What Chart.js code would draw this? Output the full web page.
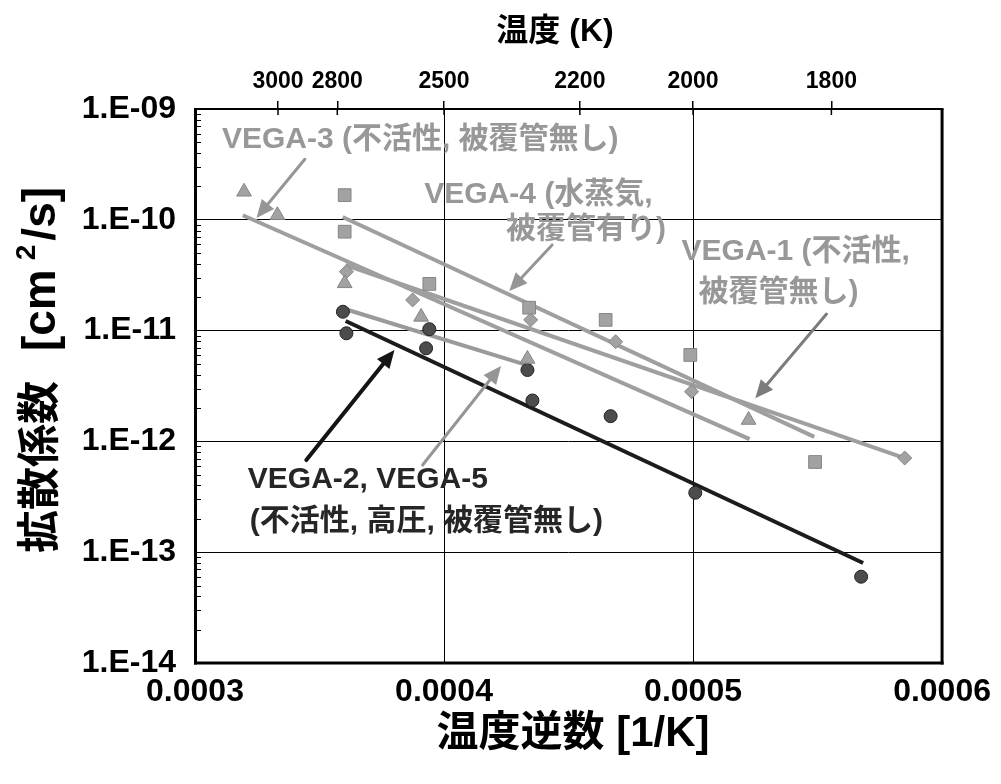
<!DOCTYPE html>
<html>
<head>
<meta charset="utf-8">
<script src="https://cdn.jsdelivr.net/npm/chart.js@4.4.1/dist/chart.umd.min.js"></script>
<style>
  html, body { margin: 0; padding: 0; background: #fff; }
  #wrap { width: 1001px; height: 784px; }
</style>
</head>
<body>
<div id="wrap"><canvas id="c" width="1001" height="784"></canvas></div>
<script>
const FONT = '"Liberation Sans", Arial, "Noto Sans CJK JP", sans-serif';

// Measured points: x = 1/T [1/K], y = diffusion coefficient [cm^2/s]
const triangleX = [0.0003197, 0.0003331, 0.0003601, 0.0003908, 0.0004335, 0.0005223];
const triangleY = [1.79e-10, 1.10e-10, 2.67e-11, 1.33e-11, 5.55e-12, 1.56e-12];

const squareX = [0.0003601, 0.0003601, 0.0003941, 0.0004342, 0.0004649, 0.0004989, 0.0005490];
const squareY = [1.67e-10, 7.81e-11, 2.64e-11, 1.61e-11, 1.25e-11, 6.03e-12, 6.52e-13];

const diamondX = [0.0003608, 0.0003874, 0.0004348, 0.0004689, 0.0004994, 0.0005850];
const diamondY = [3.40e-11, 1.89e-11, 1.25e-11, 7.94e-12, 2.81e-12, 7.08e-13];

const circleX = [0.0003594, 0.0003608, 0.0003941, 0.0003928, 0.0004335, 0.0004355, 0.0004669, 0.0005009, 0.0005675];
const circleY = [1.48e-11, 9.46e-12, 1.03e-11, 6.92e-12, 4.41e-12, 2.34e-12, 1.69e-12, 3.44e-13, 6.01e-14];

// Arrhenius fit lines, end points of each test
const fitVega3X = [0.0003192, 0.0005227];
const fitVega3Y = [1.10e-10, 1.05e-12];
const fitVega4X = [0.0003593, 0.0005487];
const fitVega4Y = [1.06e-10, 1.10e-12];
const fitVega1X = [0.0003605, 0.0005850];
const fitVega1Y = [3.91e-11, 7.08e-13];
const fitVega5X = [0.0003589, 0.0004330];
const fitVega5Y = [1.60e-11, 4.90e-12];
const fitVega2X = [0.0003605, 0.0005683];
const fitVega2Y = [1.22e-11, 8.0e-14];

// Axis ticks
const xTicks = [0.0003, 0.0004, 0.0005, 0.0006];
const xTickLabels = ['0.0003', '0.0004', '0.0005', '0.0006'];
const tempTicks = [3000, 2800, 2500, 2200, 2000, 1800];
const yDecades = [-14, -13, -12, -11, -10, -9];
const yTickLabels = ['1.E-14', '1.E-13', '1.E-12', '1.E-11', '1.E-10', '1.E-09'];

// Callouts (anchored in data units)
const notes = [
  { text: 'VEGA-3 (不活性, 被覆管無し)', x: 0.0003108, y: 5.25e-10, color: '#989898' },
  { text: 'VEGA-4 (水蒸気,', x: 0.0003921, y: 1.68e-10, color: '#989898' },
  { text: '被覆管有り)', x: 0.0004249, y: 8.09e-11, color: '#989898' },
  { text: 'VEGA-1 (不活性,', x: 0.0004954, y: 5.12e-11, color: '#989898' },
  { text: '被覆管無し)', x: 0.0005022, y: 2.18e-11, color: '#989898' },
  { text: 'VEGA-2, VEGA-5', x: 0.0003212, y: 4.49e-13, color: '#262626' },
  { text: '(不活性, 高圧, 被覆管無し)', x: 0.0003220, y: 1.88e-13, color: '#262626' }
];
const arrows = [
  { x1: 0.0003441, y1: 3.52e-10, x2: 0.0003247, y2: 1.04e-10, color: '#959595', w: 3 },
  { x1: 0.0004434, y1: 5.93e-11, x2: 0.0004262, y2: 2.28e-11, color: '#959595', w: 3 },
  { x1: 0.0005536, y1: 1.41e-11, x2: 0.0005250, y2: 2.45e-12, color: '#7c7c7c', w: 3 },
  { x1: 0.0003447, y1: 6.79e-13, x2: 0.0003801, y2: 6.68e-12, color: '#151515', w: 4 },
  { x1: 0.0003914, y1: 6.12e-13, x2: 0.0004229, y2: 4.80e-12, color: '#959595', w: 3 }
];

const pts = (xs, ys) => xs.map((x, i) => ({ x, y: ys[i] }));

const GRAY = '#a2a2a2', GRAY_EDGE = '#858585';

function fitLine(xs, ys, color) {
  return { data: pts(xs, ys), showLine: true, borderColor: color, borderWidth: 4,
           pointRadius: 0, fill: false, order: 2 };
}
function markers(xs, ys, style, r, fillC, edgeC) {
  return { data: pts(xs, ys), showLine: false, pointStyle: style, pointRadius: r,
           backgroundColor: fillC, borderColor: edgeC, borderWidth: 1, order: 1 };
}

function drawArrow(ctx, x1, y1, x2, y2, color, w) {
  const a = Math.atan2(y2 - y1, x2 - x1);
  const L = 18, H = 8;
  const bx = x2 - L * Math.cos(a), by = y2 - L * Math.sin(a);
  ctx.strokeStyle = color; ctx.lineWidth = w; ctx.lineCap = 'round';
  ctx.beginPath(); ctx.moveTo(x1, y1); ctx.lineTo(bx, by); ctx.stroke();
  ctx.fillStyle = color;
  ctx.beginPath();
  ctx.moveTo(x2, y2);
  ctx.lineTo(bx + H * Math.sin(a), by - H * Math.cos(a));
  ctx.lineTo(bx - H * Math.sin(a), by + H * Math.cos(a));
  ctx.closePath(); ctx.fill();
}

const decor = {
  id: 'decor',
  afterDatasetsDraw(chart) {
    const { ctx, scales } = chart;
    const sx = scales.x, sy = scales.y;
    ctx.save();
    arrows.forEach(a => drawArrow(ctx, sx.getPixelForValue(a.x1), sy.getPixelForValue(a.y1),
      sx.getPixelForValue(a.x2), sy.getPixelForValue(a.y2), a.color, a.w));
    ctx.font = `bold 30px ${FONT}`;
    ctx.textBaseline = 'middle';
    ctx.textAlign = 'left';
    notes.forEach(n => {
      ctx.fillStyle = n.color;
      ctx.fillText(n.text, sx.getPixelForValue(n.x), sy.getPixelForValue(n.y));
    });
    ctx.restore();
  },
  afterDraw(chart) {
    const { ctx, chartArea: a, scales } = chart;
    ctx.save();
    ctx.strokeStyle = '#000';
    // minor ticks inside the left edge
    ctx.lineWidth = 1;
    scales.y.ticks.forEach(t => {
      const lg = Math.log10(t.value);
      if (Math.abs(lg - Math.round(lg)) < 1e-6) return;
      const p = Math.round(scales.y.getPixelForValue(t.value)) + 0.5;
      ctx.beginPath(); ctx.moveTo(a.left, p); ctx.lineTo(a.left + 6, p); ctx.stroke();
    });
    // temperature ticks reaching inside the top edge
    ctx.lineWidth = 1.5;
    scales.x2.ticks.forEach(t => {
      const p = scales.x2.getPixelForValue(t.value);
      ctx.beginPath(); ctx.moveTo(p, a.top); ctx.lineTo(p, a.top + 6); ctx.stroke();
    });
    // frame
    ctx.lineWidth = 3;
    ctx.beginPath(); ctx.moveTo(a.left + 0.5, a.top); ctx.lineTo(a.left + 0.5, a.bottom + 1.5); ctx.stroke();
    ctx.beginPath(); ctx.moveTo(a.right, a.top); ctx.lineTo(a.right, a.bottom + 1.5); ctx.stroke();
    ctx.beginPath(); ctx.moveTo(a.left - 1, a.bottom); ctx.lineTo(a.right + 1.5, a.bottom); ctx.stroke();
    ctx.lineWidth = 2;
    ctx.beginPath(); ctx.moveTo(a.left - 1, a.top); ctx.lineTo(a.right + 1.5, a.top); ctx.stroke();

    // titles
    ctx.fillStyle = '#000';
    ctx.textBaseline = 'middle';
    ctx.textAlign = 'center';
    ctx.font = `bold 32px ${FONT}`;
    ctx.fillText('温度 (K)', 555, 32);
    ctx.font = `bold 42px ${FONT}`;
    ctx.fillText('温度逆数 [1/K]', 573, 734);

    // vertical title with superscript
    ctx.save();
    ctx.translate(42, 370);
    ctx.rotate(-Math.PI / 2);
    const cjk = `bold 43px ${FONT}`, unit = `bold 46px ${FONT}`, sup = `bold 28px ${FONT}`;
    const parts = [
      { t: '拡散係数', f: cjk, dy: 0, after: 30 },
      { t: '[cm', f: unit, dy: 0, after: 9 },
      { t: '2', f: sup, dy: -15, after: 4 },
      { t: '/s]', f: unit, dy: 0, after: 0 }
    ];
    let total = 0;
    parts.forEach(p => { ctx.font = p.f; p.w = ctx.measureText(p.t).width; total += p.w + p.after; });
    let x = -total / 2;
    ctx.textAlign = 'left';
    parts.forEach(p => { ctx.font = p.f; ctx.fillText(p.t, x, p.dy); x += p.w + p.after; });
    ctx.restore();
    ctx.restore();
  }
};

new Chart(document.getElementById('c'), {
  type: 'scatter',
  data: {
    datasets: [
      fitLine(fitVega3X, fitVega3Y, '#9f9f9f'),
      fitLine(fitVega4X, fitVega4Y, '#9f9f9f'),
      fitLine(fitVega1X, fitVega1Y, '#9f9f9f'),
      fitLine(fitVega5X, fitVega5Y, '#9a9a9a'),
      fitLine(fitVega2X, fitVega2Y, '#1c1c1c'),
      markers(triangleX, triangleY, 'triangle', 8.5, GRAY, GRAY_EDGE),
      markers(squareX, squareY, 'rect', 9, GRAY, GRAY_EDGE),
      markers(diamondX, diamondY, 'rectRot', 7, GRAY, GRAY_EDGE),
      markers(circleX, circleY, 'circle', 6.5, '#4c4c4c', '#222')
    ]
  },
  options: {
    responsive: false,
    animation: false,
    devicePixelRatio: 1,
    layout: { padding: { left: 0, right: 57, top: 0, bottom: 0 } },
    plugins: { legend: { display: false }, tooltip: { enabled: false } },
    scales: {
      x: {
        type: 'linear', position: 'bottom', min: 0.0003, max: 0.0006,
        afterBuildTicks: s => { s.ticks = xTicks.map(v => ({ value: v })); },
        afterFit: s => { s.height = 121; },
        ticks: {
          callback: (v, i) => xTickLabels[i],
          font: { size: 32, weight: 'bold', family: FONT }, color: '#000',
          padding: 10, maxRotation: 0, autoSkip: false
        },
        grid: {
          color: c => (c.index === 1 || c.index === 2) ? '#000' : 'rgba(0,0,0,0)',
          lineWidth: 1, drawTicks: false
        },
        border: { display: false }
      },
      x2: {
        type: 'linear', position: 'top', min: 0.0003, max: 0.0006,
        afterBuildTicks: s => { s.ticks = tempTicks.map(T => ({ value: 1 / T })); },
        afterFit: s => { s.height = 109; },
        ticks: {
          callback: (v, i) => String(tempTicks[i]),
          font: { size: 23, weight: 'bold', family: FONT }, color: '#000',
          padding: 6, maxRotation: 0, autoSkip: false
        },
        grid: { drawOnChartArea: false, drawTicks: true, tickLength: 8, color: '#000', lineWidth: 1.5 },
        border: { display: false }
      },
      y: {
        type: 'logarithmic', min: 1e-14, max: 1e-9,
        afterBuildTicks: s => {
          const t = [];
          yDecades.forEach(e => {
            for (let m = 1; m <= 9; m++) {
              if (e === -9 && m > 1) break;
              t.push({ value: m * Math.pow(10, e), major: m === 1 });
            }
          });
          s.ticks = t;
        },
        afterFit: s => { s.width = 195; },
        ticks: {
          callback: v => {
            const lg = Math.log10(v);
            const k = yDecades.indexOf(Math.round(lg));
            return (Math.abs(lg - Math.round(lg)) < 1e-6 && k >= 0) ? yTickLabels[k] : '';
          },
          font: { size: 32, weight: 'bold', family: FONT }, color: '#000',
          padding: 19, autoSkip: false
        },
        grid: {
          color: c => {
            const v = c.tick ? c.tick.value : 0;
            const lg = Math.log10(v);
            const isDec = Math.abs(lg - Math.round(lg)) < 1e-6;
            return (isDec && Math.round(lg) > -14 && Math.round(lg) < -9) ? '#000' : 'rgba(0,0,0,0)';
          },
          lineWidth: 1, drawTicks: false
        },
        border: { display: false }
      }
    }
  },
  plugins: [decor]
});
</script>
</body>
</html>
